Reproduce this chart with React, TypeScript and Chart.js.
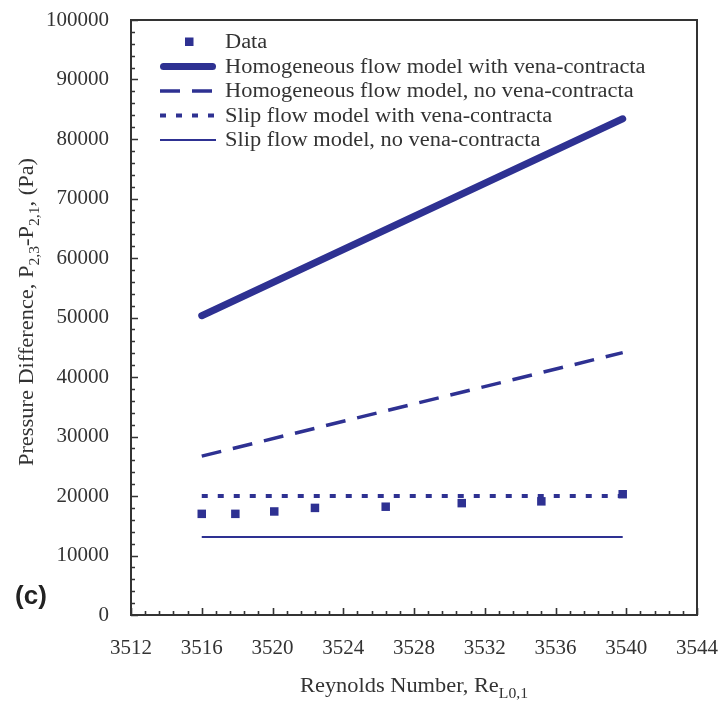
import React, { useEffect, useRef } from 'react';
import { Chart, registerables } from 'chart.js';

Chart.register(...registerables);

const NAVY = '#2E3192';
const INK = '#333333';
const SERIF = '"Liberation Serif", "Times New Roman", serif';
const STRETCH = 1.12;

// Measured pressure drop across the orifice vs. Reynolds number
const dataRe = [3516.0, 3517.9, 3520.1, 3522.4, 3526.4, 3530.7, 3535.2, 3539.8];
const dataDp = [17000, 17000, 17400, 18000, 18200, 18800, 19100, 20300];

// Model predictions (straight lines over the tested range)
const modelRe = [3516.0, 3539.8];
const homogeneousVc = [50300, 83400];
const homogeneousNoVc = [26700, 44100];
const slipVc = [20000, 20000];
const slipNoVc = [13100, 13100];

const seriesLabels = [
  'Data',
  'Homogeneous flow model with vena-contracta',
  'Homogeneous flow model, no vena-contracta',
  'Slip flow model with vena-contracta',
  'Slip flow model, no vena-contracta',
];

const xTicks = { min: 3512, max: 3544, step: 4, minor: 0.8 };
const yTicks = { min: 0, max: 100000, step: 10000, minor: 2000 };

const toPoints = (xs: number[], ys: number[]) => xs.map((x, i) => ({ x, y: ys[i] }));

type Seg = [string, boolean];

function drawRich(ctx: CanvasRenderingContext2D, segs: Seg[], cx: number, baseline: number, size: number) {
  const base = `${size}px ${SERIF}`;
  const sub = `${Math.round(size * 0.68)}px ${SERIF}`;
  let total = 0;
  const widths = segs.map(([t, s]) => {
    ctx.font = s ? sub : base;
    const w = ctx.measureText(t).width * STRETCH;
    total += w;
    return w;
  });
  let x = cx - total / 2;
  ctx.textAlign = 'left';
  ctx.textBaseline = 'alphabetic';
  segs.forEach(([t, s], i) => {
    ctx.font = s ? sub : base;
    ctx.save();
    ctx.translate(x, baseline + (s ? size * 0.3 : 0));
    ctx.scale(STRETCH, 1);
    ctx.fillText(t, 0, 0);
    ctx.restore();
    x += widths[i];
  });
}

// keep the plot area fixed: the axes reserve no extra room for overhanging labels
const noScalePadding = (s: any) => {
  s.paddingTop = 0;
  s.paddingBottom = 0;
  s.paddingLeft = 0;
  s.paddingRight = 0;
};

const decorations = {
  id: 'decorations',
  afterDraw(chart: any) {
    const ctx: CanvasRenderingContext2D = chart.ctx;
    const { left, right, top, bottom } = chart.chartArea;
    const xs = chart.scales.x;
    const ys = chart.scales.y;

    ctx.save();
    // inward tick marks
    ctx.strokeStyle = INK;
    ctx.lineWidth = 1.6;
    ctx.beginPath();
    const nx = Math.round((xTicks.max - xTicks.min) / xTicks.minor);
    for (let k = 0; k <= nx; k++) {
      const v = xTicks.min + k * xTicks.minor;
      const px = Math.round(xs.getPixelForValue(v)) + 0.5;
      const len = k % 5 === 0 ? 7 : 4;
      ctx.moveTo(px, bottom);
      ctx.lineTo(px, bottom - len);
    }
    const ny = Math.round((yTicks.max - yTicks.min) / yTicks.minor);
    for (let k = 0; k <= ny; k++) {
      const v = yTicks.min + k * yTicks.minor;
      const py = Math.round(ys.getPixelForValue(v)) + 0.5;
      const len = k % 5 === 0 ? 7 : 4;
      ctx.moveTo(left, py);
      ctx.lineTo(left + len, py);
    }
    ctx.stroke();

    // plot frame
    ctx.lineWidth = 2;
    ctx.strokeRect(left, top, right - left, bottom - top);

    // legend inside the plot area
    const ds = chart.data.datasets;
    ds.forEach((d: any, i: number) => {
      const y = top + 22 + i * 24.5;
      if (d.showLine === false) {
        ctx.fillStyle = d.backgroundColor;
        ctx.fillRect(left + 54, y - 4.5, 8.5, 8.5);
      } else {
        ctx.strokeStyle = d.borderColor;
        ctx.lineWidth = d.borderWidth;
        ctx.lineCap = d.borderCapStyle || 'butt';
        ctx.setLineDash(d.borderDash || []);
        const inset = d.borderCapStyle === 'round' ? d.borderWidth / 2 : 0;
        ctx.beginPath();
        ctx.moveTo(left + 29 + inset, y);
        ctx.lineTo(left + 85 - inset, y);
        ctx.stroke();
        ctx.setLineDash([]);
        ctx.lineCap = 'butt';
      }
      ctx.fillStyle = INK;
      ctx.font = `20px ${SERIF}`;
      ctx.textAlign = 'left';
      ctx.textBaseline = 'middle';
      ctx.save();
      ctx.translate(left + 94, y + 1);
      ctx.scale(STRETCH, 1);
      ctx.fillText(d.label, 0, 0);
      ctx.restore();
    });

    // axis titles
    ctx.fillStyle = INK;
    drawRich(ctx, [['Reynolds Number, Re', false], ['L0,1', true]], (left + right) / 2, 692, 20);

    ctx.save();
    ctx.translate(33, 312);
    ctx.rotate(-Math.PI / 2);
    drawRich(
      ctx,
      [
        ['Pressure Difference, P', false],
        ['2,3', true],
        ['-P', false],
        ['2,1', true],
        [', (Pa)', false],
      ],
      0,
      0,
      20,
    );
    ctx.restore();

    // panel tag
    ctx.font = 'bold 26px "Liberation Sans", Arial, sans-serif';
    ctx.textAlign = 'center';
    ctx.textBaseline = 'middle';
    ctx.fillStyle = '#222222';
    ctx.fillText('(c)', 31, 597);

    ctx.restore();
  },
};

export default function App() {
  const canvasRef = useRef<HTMLCanvasElement | null>(null);

  useEffect(() => {
    document.body.style.margin = '0';
    const canvas = canvasRef.current;
    if (!canvas) return;

    const chart = new Chart(canvas, {
      type: 'scatter',
      data: {
        datasets: [
          {
            label: seriesLabels[0],
            data: toPoints(dataRe, dataDp),
            showLine: false,
            pointStyle: 'rect',
            pointRadius: 6,
            pointHoverRadius: 6,
            backgroundColor: NAVY,
            borderColor: NAVY,
            borderWidth: 0,
          },
          {
            label: seriesLabels[1],
            data: toPoints(modelRe, homogeneousVc),
            showLine: true,
            pointRadius: 0,
            borderColor: NAVY,
            borderWidth: 7,
            borderCapStyle: 'round',
          },
          {
            label: seriesLabels[2],
            data: toPoints(modelRe, homogeneousNoVc),
            showLine: true,
            pointRadius: 0,
            borderColor: NAVY,
            borderWidth: 3.5,
            borderDash: [20, 12],
          },
          {
            label: seriesLabels[3],
            data: toPoints(modelRe, slipVc),
            showLine: true,
            pointRadius: 0,
            borderColor: NAVY,
            borderWidth: 4,
            borderDash: [6, 10],
          },
          {
            label: seriesLabels[4],
            data: toPoints(modelRe, slipNoVc),
            showLine: true,
            pointRadius: 0,
            borderColor: NAVY,
            borderWidth: 2,
          },
        ] as any,
      },
      options: {
        animation: false,
        responsive: false,
        devicePixelRatio: 1,
        layout: { padding: { left: 0, top: 20, right: 25, bottom: 0 } },
        plugins: {
          legend: { display: false },
          tooltip: { enabled: false },
        },
        scales: {
          x: {
            type: 'linear',
            min: xTicks.min,
            max: xTicks.max,
            grid: { display: false },
            border: { display: false },
            ticks: {
              stepSize: xTicks.step,
              padding: 13,
              color: INK,
              font: { family: SERIF, size: 21 },
              maxRotation: 0,
              callback: (v: any) => String(v),
            },
            afterFit: (s: any) => {
              s.height = 92;
              noScalePadding(s);
            },
          },
          y: {
            type: 'linear',
            min: yTicks.min,
            max: yTicks.max,
            grid: { display: false },
            border: { display: false },
            ticks: {
              stepSize: yTicks.step,
              padding: 14,
              color: INK,
              font: { family: SERIF, size: 21 },
              callback: (v: any) => String(v),
            },
            afterFit: (s: any) => {
              s.width = 131;
              noScalePadding(s);
            },
          },
        },
      },
      plugins: [decorations],
    });

    return () => chart.destroy();
  }, []);

  return (
    <div style={{ position: 'absolute', left: 0, top: 0, width: 722, height: 707, background: '#ffffff' }}>
      <canvas ref={canvasRef} width={722} height={707} />
    </div>
  );
}
